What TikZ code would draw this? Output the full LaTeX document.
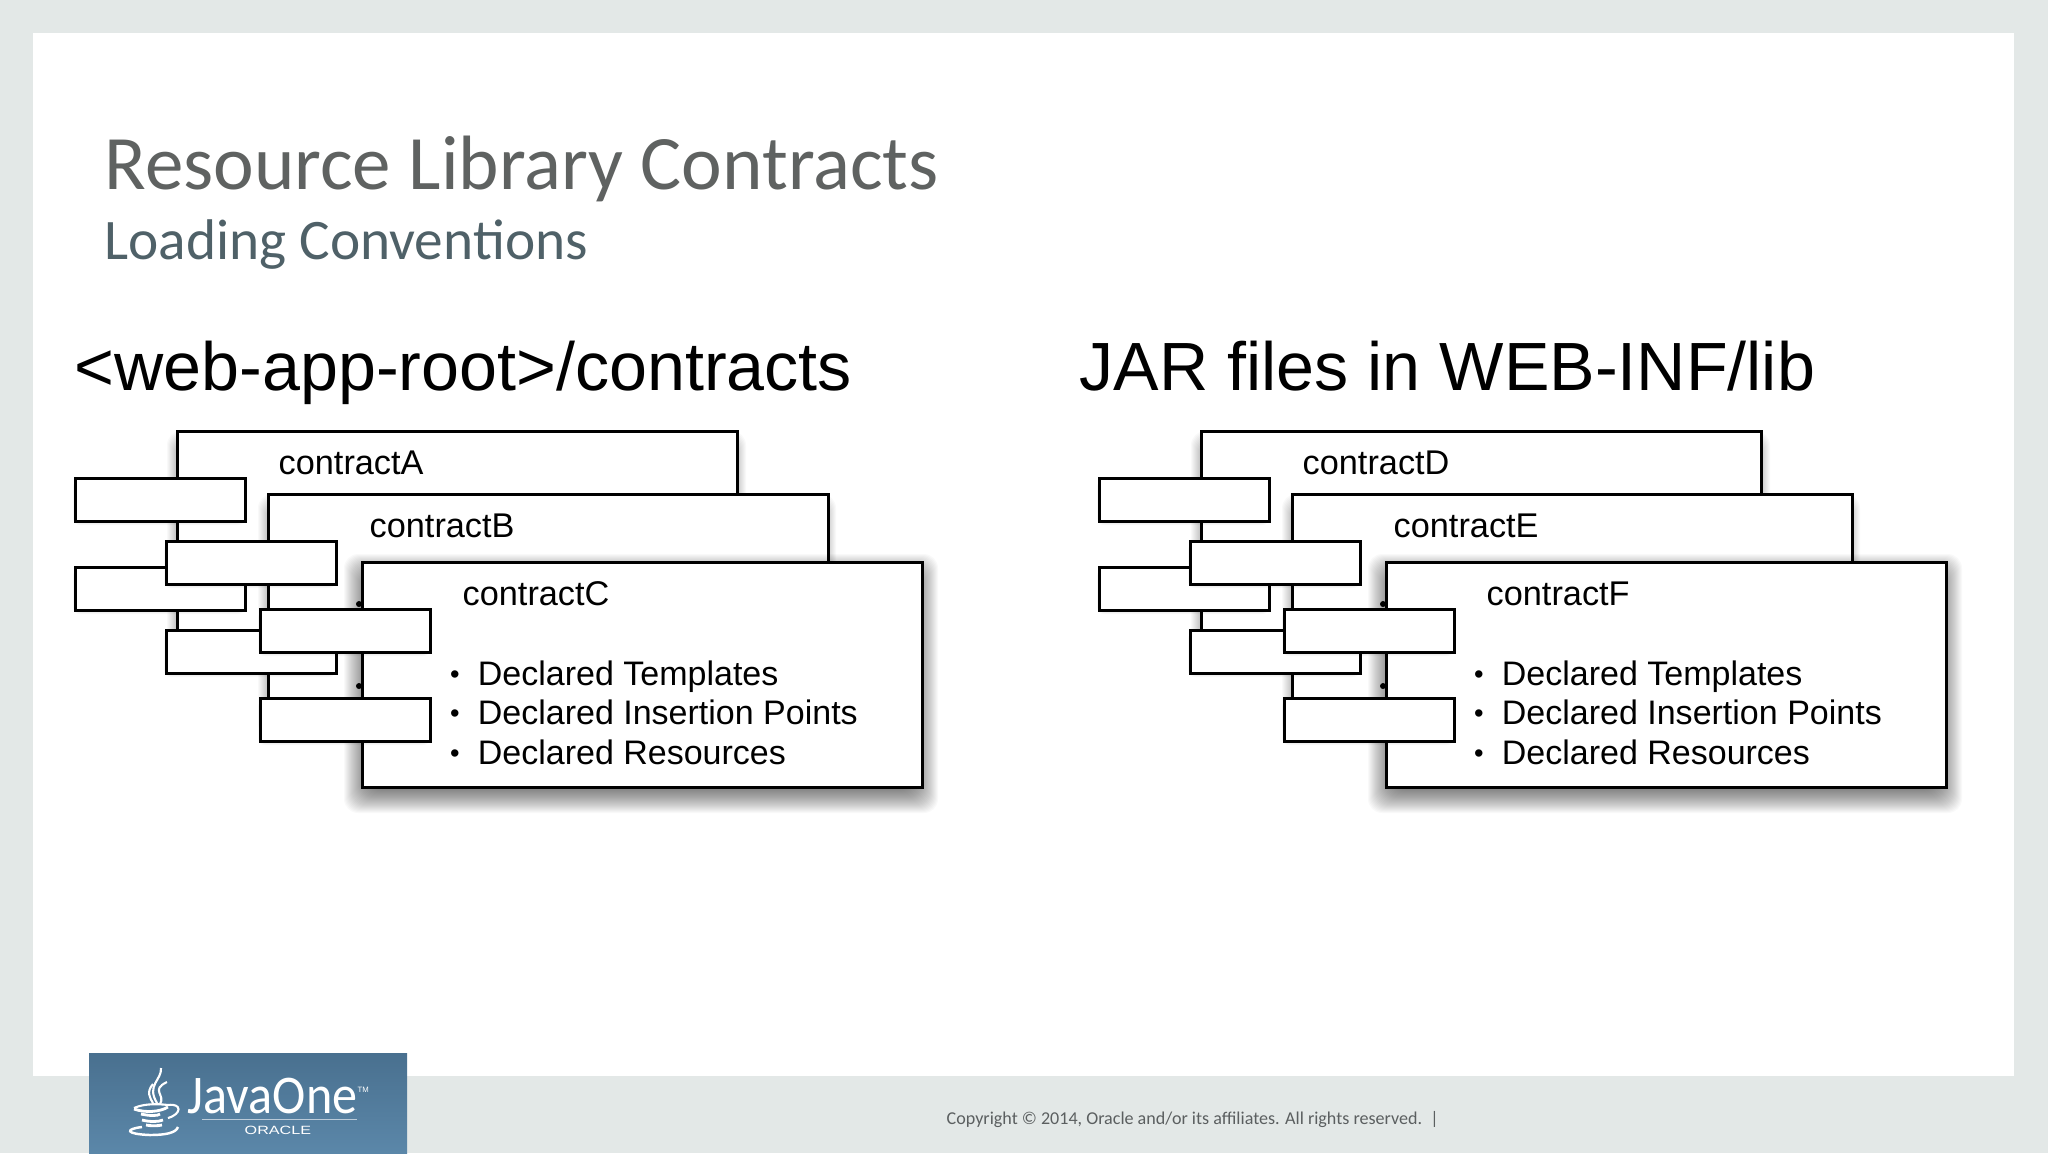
\documentclass[tikz,border=0pt]{standalone}
\usepackage{graphicx}
\usepackage{fontspec}
\setmainfont{Liberation Sans}
\newfontfamily\slidefont{Carlito}
\usepackage{tikz}
\definecolor{slidegrey}{HTML}{E3E8E7}
\definecolor{titlegrey}{HTML}{5F6261}
\definecolor{subtitleblue}{HTML}{4F6168}
\definecolor{footgrey}{HTML}{5B5F60}
\definecolor{logotop}{HTML}{49708F}
\definecolor{logobottom}{HTML}{5B87A9}

% Soft shadow under a box: x1, y1, x2, y2, reach
\newcommand{\softshadow}[5]{%
    \foreach \r in {#5,...,-10} {
        \fill[black, opacity=0.024, rounded corners=4] (#1-\r,#2-\r+10) rectangle (#3+\r,#4+\r+10);
    }
}
% A smaller one for the tabs
\newcommand{\tabshadow}[2]{%
    \foreach \r in {1,...,-4} {
        \fill[black, opacity=0.03, rounded corners=2] (#1-\r,#2-\r+4) rectangle (#1+170+\r,#2+43+\r+4);
    }
}
% Bullet in front of a list line
\newcommand{\listdot}{\makebox[8.3pt][l]{\hspace{0.4pt}\raisebox{0.5pt}{\scalebox{0.8}{•}}}}

\begin{document}
\begin{tikzpicture}[
    x=0.01cm, y=-0.01cm,
    boxline/.style={draw=black, line width=0.75pt, fill=white},
    contractbox/.style={boxline, anchor=north west, inner sep=0pt, minimum width=5.6cm, minimum height=2.25cm},
    tabbox/.style={boxline, anchor=north west, inner sep=0pt, minimum width=1.7cm, minimum height=0.43cm},
    boxlabel/.style={anchor=base west, inner sep=0pt, font=\fontsize{9.75}{11}\selectfont},
    itemlabel/.style={anchor=base west, inner sep=0pt, font=\fontsize{9.67}{12}\selectfont},
    heading/.style={anchor=base west, inner sep=0pt, font=\fontsize{19.4}{22}\selectfont}
]
    \useasboundingbox (0,0) rectangle (2048,1153);

    % Slide background
    \fill[slidegrey] (0,0) rectangle (2048,1153);
    \fill[white] (33,33) rectangle (2014,1076);

    % Titles
    \node[anchor=base west, inner sep=0pt, text=titlegrey, font=\slidefont\fontsize{21.9}{24}\selectfont] (title) at (104,189) {Resource Library Contracts};
    \node[anchor=base west, inner sep=0pt, text=subtitleblue, font=\slidefont\fontsize{16.3}{18}\selectfont] (subtitle) at (104,259) {Loading Conventions};
    \node[heading] (headleft) at (74,390) {<web-app-root>/contracts};
    \node[heading] (headright) at (1079,390) {JAR files in WEB-INF/lib};

    % The two stacks of contracts
    \foreach \gx/\na/\nb/\nc in {-1/contractA/contractB/contractC, 1023/contractD/contractE/contractF} {
        \begin{scope}[shift={(\gx,0)}]
            % First contract
            \softshadow{177}{430}{738}{655}{9}
            \node[contractbox] (box\na) at (177,430) {};
            \node[boxlabel] (label\na) at (279,474) {\na};
            \tabshadow{75}{477}
            \node[tabbox] (tabone\na) at (75,477) {};
            \tabshadow{75}{566}
            \node[tabbox] (tabtwo\na) at (75,566) {};

            % Second contract
            \softshadow{268}{493}{828}{718}{9}
            \node[contractbox] (box\nb) at (268,493) {};
            \node[boxlabel] (label\nb) at (370,537) {\nb};
            \tabshadow{166}{540}
            \node[tabbox] (tabone\nb) at (166,540) {};
            \tabshadow{166}{629}
            \node[tabbox] (tabtwo\nb) at (166,629) {};

            % Front contract with its list
            \softshadow{362}{561}{922}{786}{17}
            \node[contractbox] (box\nc) at (362,561) {};
            \node[boxlabel] (label\nc) at (463,605) {\nc};
            \node[itemlabel] (templates\nc) at (449,685) {\listdot Declared Templates};
            \node[itemlabel] (insertion\nc) at (449,724) {\listdot Declared Insertion Points};
            \node[itemlabel] (resources\nc) at (449,764) {\listdot Declared Resources};

            % Small dots peeking out at the left edge
            \fill (360,604) circle (3);
            \fill (360,686) circle (3);

            \tabshadow{260}{608}
            \node[tabbox] (tabone\nc) at (260,608) {};
            \tabshadow{260}{697}
            \node[tabbox] (tabtwo\nc) at (260,697) {};
        \end{scope}
    }

    % Footer text
    \node[anchor=base west, inner sep=0pt, text=footgrey, font=\slidefont\fontsize{5.14}{6}\selectfont] (copyright) at (946,1124) {Copyright © 2014, Oracle and/or its affiliates. All rights reserved.\ \ |};

    % Logo plate
    \fill[top color=logotop, bottom color=logobottom] (89,1053) rectangle (407,1153);
    \node[anchor=base west, inner sep=0pt, text=white, font=\slidefont\fontsize{15.5}{18}\selectfont] (javaone) at (187,1113) {\scalebox{0.92}[1]{JavaOne}};
    \node[anchor=base west, inner sep=0pt, text=white, font=\fontsize{2.2}{3}\selectfont] (trademark) at (357,1092) {TM};
    \draw[white, opacity=0.6, line width=0.25pt] (202,1119) -- (357,1119);
    \node[anchor=base west, inner sep=0pt, text=white, font=\fontsize{3.4}{4}\selectfont] (oracle) at (244,1134) {\scalebox{1.35}[1]{ORACLE}};

    % Java cup
    \draw[white, line width=0.6pt] (161,1068) .. controls (162,1080) and (146,1085) .. (157,1103);
    \draw[white, line width=0.6pt] (167,1082) .. controls (150,1090) and (166,1095) .. (160,1104);
    \draw[white, line width=0.6pt] (153,1084) .. controls (146,1092) and (150,1098) .. (153,1103);
    \draw[white, line width=0.6pt] (134,1108) .. controls (145,1103) and (160,1104) .. (168,1105) .. controls (182,1103) and (182,1114) .. (168,1118);
    \draw[white, line width=0.8pt] (134,1109) .. controls (145,1113) and (160,1112) .. (168,1107);
    \draw[white, line width=0.8pt] (141,1114) .. controls (150,1116) and (158,1116) .. (160,1114);
    \draw[white, line width=0.8pt] (142,1120) .. controls (150,1122) and (158,1122) .. (163,1120);
    \draw[white, line width=0.8pt] (146,1125) .. controls (150,1126) and (158,1126) .. (162,1125);
    \draw[white, line width=0.7pt] (142,1127) .. controls (125,1129) and (125,1134) .. (150,1135) .. controls (165,1135) and (176,1133) .. (178,1127);
\end{tikzpicture}
\end{document}
